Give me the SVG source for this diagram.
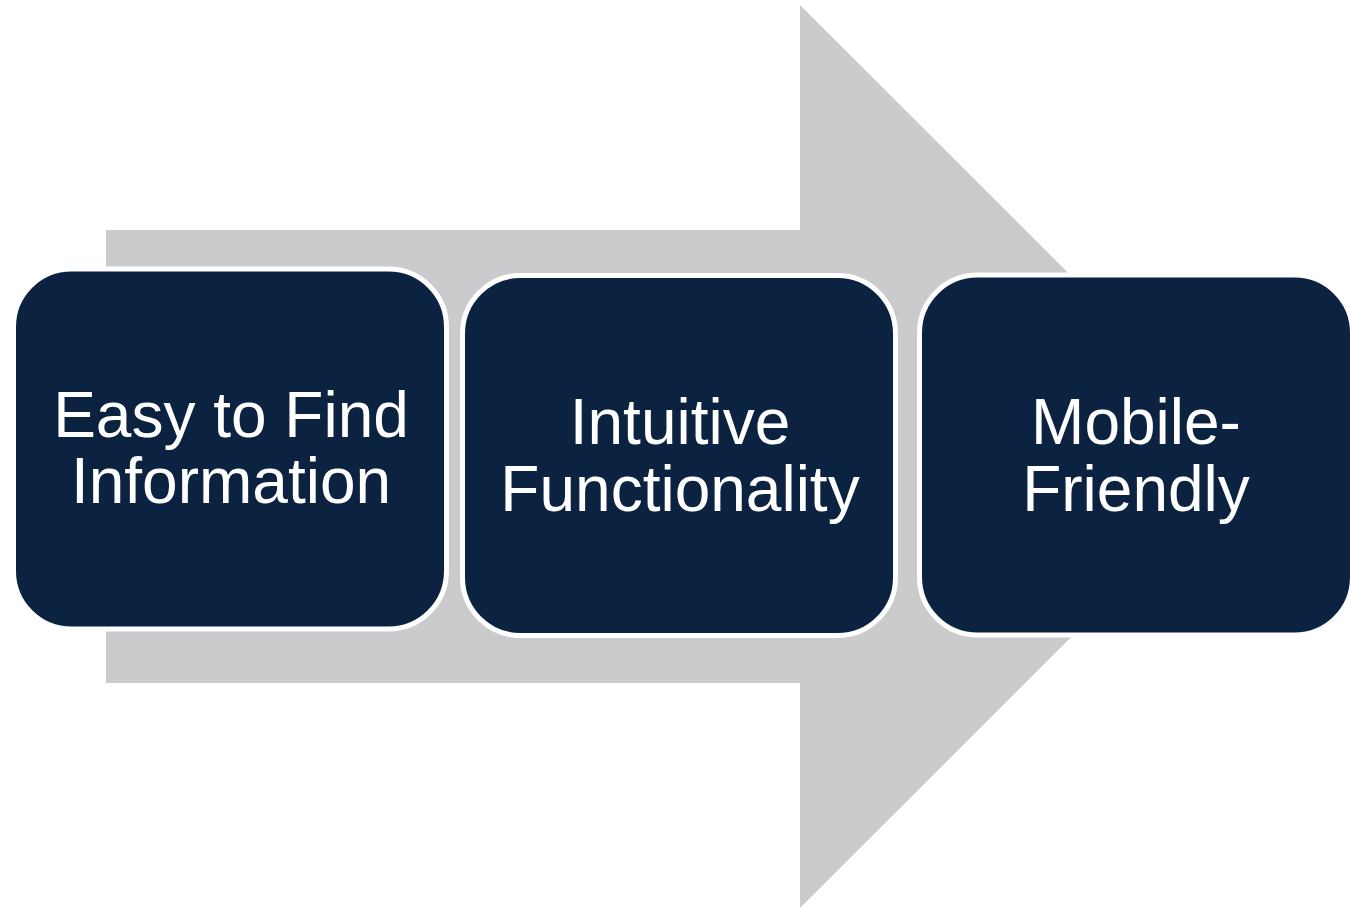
<svg xmlns="http://www.w3.org/2000/svg" width="1350" height="908" viewBox="0 0 1350 908">
<style>
.box{fill:#0B2340;stroke:#FFFFFF;stroke-width:5}
.lbl{fill:#FFFFFF;font-family:"Liberation Sans",Arial,sans-serif;font-size:64px;text-anchor:middle}
</style>
<rect width="1350" height="908" fill="#FFFFFF"/>
<g id="connectors">
<polygon points="106,230 800,230 800,5 1252,456.5 800,908 800,683 106,683" fill="#CBCBCD"/>
</g>
<g id="node1">
<rect class="box" x="13.5" y="269" width="433" height="360" rx="58" ry="58"/>
<text class="lbl" x="231" y="437">Easy to Find</text>
<text class="lbl" x="231" y="503">Information</text>
</g>
<g id="node2">
<rect class="box" x="462.5" y="275.5" width="433" height="360" rx="58" ry="58"/>
<text class="lbl" x="680" y="444">Intuitive</text>
<text class="lbl" x="680" y="511">Functionality</text>
</g>
<g id="node3">
<rect class="box" x="919.5" y="275" width="433" height="360" rx="58" ry="58"/>
<text class="lbl" x="1136" y="444">Mobile-</text>
<text class="lbl" x="1136" y="511">Friendly</text>
</g>
</svg>
